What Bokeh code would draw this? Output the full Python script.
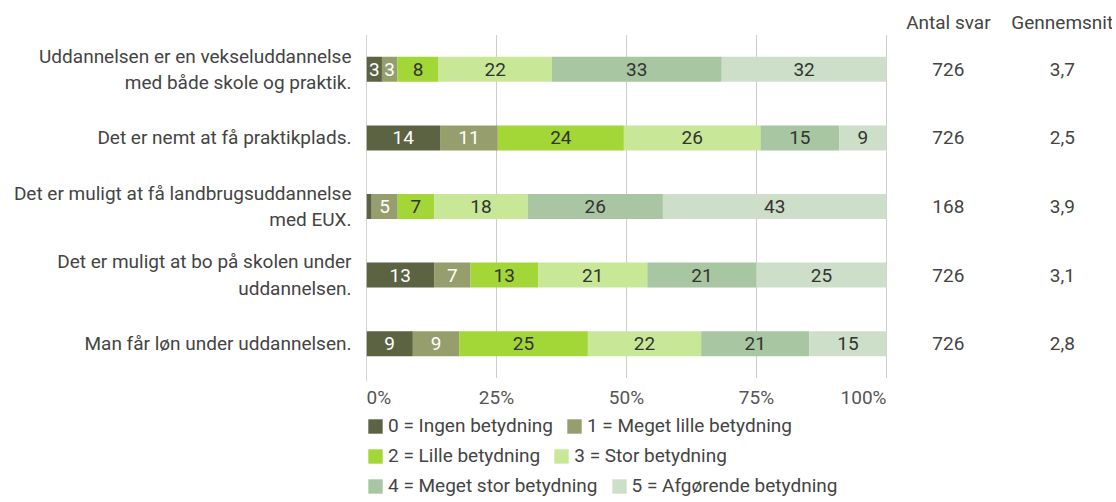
from bokeh.plotting import figure
from bokeh.models import (Range1d, FixedTicker, ColumnDataSource, Legend, LegendItem)
from bokeh.core.properties import value
from bokeh.embed import file_html
from bokeh.resources import INLINE

# ---------------- data ----------------
questions = [
    "Uddannelsen er en vekseluddannelse\nmed både skole og praktik.",
    "Det er nemt at få praktikplads.",
    "Det er muligt at få landbrugsuddannelse\nmed EUX.",
    "Det er muligt at bo på skolen under\nuddannelsen.",
    "Man får løn under uddannelsen.",
]
levels = [
    "0 = Ingen betydning",
    "1 = Meget lille betydning",
    "2 = Lille betydning",
    "3 = Stor betydning",
    "4 = Meget stor betydning",
    "5 = Afgørende betydning",
]
pct_0 = [3, 14, 1, 13, 9]
pct_1 = [3, 11, 5, 7, 9]
pct_2 = [8, 24, 7, 13, 25]
pct_3 = [22, 26, 18, 21, 22]
pct_4 = [33, 15, 26, 21, 21]
pct_5 = [32, 9, 43, 25, 15]
antal_svar = ["726", "726", "168", "726", "726"]
gennemsnit = ["3,7", "2,5", "3,9", "3,1", "2,8"]
x_ticks = [0, 25, 50, 75, 100]
x_tick_labels = ["0%", "25%", "50%", "75%", "100%"]
headers = ["Antal svar", "Gennemsnit"]

# ---------------- style / layout ----------------
colors = ["#5b6342", "#959e6c", "#a3d637", "#c8e898", "#a8c6a1", "#cddfc8"]
label_colors = ["white", "white", "#333333", "#333333", "#333333", "#333333"]
FONT = "Roboto"
FS = "19px"
TEXT = "#444444"
COL_X = [111.9, 133.8]      # x positions of the two side columns (data units)
HEADER_Y = 5.18             # y of the column headers (data units)
TICK_LABEL_Y = -0.29        # y of the percentage labels (data units)
tick_align = ["left", "center", "center", "center", "right"]

series = [pct_0, pct_1, pct_2, pct_3, pct_4, pct_5]
n = len(questions)
y_pos = [n - 0.5 - i for i in range(n)]
totals = [sum(s[i] for s in series) for i in range(n)]

FW, FH = 746, 500
p = figure(frame_width=FW, frame_height=FH, output_backend="svg",
           toolbar_location=None,
           x_range=Range1d(0, FW / 5.2), y_range=Range1d(-1.786, 5.503),
           min_border_left=366, min_border_right=0, min_border_top=0,
           min_border_bottom=0)
p.outline_line_color = None
p.background_fill_color = "white"
p.border_fill_color = "white"
p.xaxis.visible = False
p.xgrid.grid_line_color = None
p.ygrid.grid_line_color = None

# grid lines and the 0-line (limited to the bar area)
p.segment(x0=x_ticks[1:], x1=x_ticks[1:], y0=0, y1=n, line_color="#cccccc", line_width=1)
p.segment(x0=[x_ticks[0]], x1=[x_ticks[0]], y0=-0.05, y1=n, line_color="#a8a8a8", line_width=1)

lefts = [0.0] * n
items = []
tx, ty, tt, tc = [], [], [], []
for k, s in enumerate(series):
    widths = [s[i] / totals[i] * 100 for i in range(n)]
    rights = [lefts[i] + widths[i] for i in range(n)]
    src = ColumnDataSource(dict(y=y_pos, left=lefts, right=rights))
    r = p.hbar(y="y", left="left", right="right", height=0.365, source=src,
               fill_color=colors[k], line_color=None)
    items.append(LegendItem(label=levels[k], renderers=[r]))
    for i in range(n):
        if s[i] >= 2:
            tx.append((lefts[i] + rights[i]) / 2)
            ty.append(y_pos[i])
            tt.append(str(s[i]))
            tc.append(label_colors[k])
    lefts = rights

p.text(x="x", y="y", text="t", text_color="c",
       source=ColumnDataSource(dict(x=tx, y=ty, t=tt, c=tc)),
       text_font=value(FONT), text_font_size=FS,
       text_align="center", text_baseline="middle")

# percentage tick labels
p.text(x="x", y="y", text="t", text_align="a",
       source=ColumnDataSource(dict(x=x_ticks, y=[TICK_LABEL_Y] * len(x_ticks),
                                    t=x_tick_labels, a=tick_align)),
       text_font=value(FONT), text_font_size=FS, text_color="#555555",
       text_baseline="middle")

# side columns
p.text(x=[COL_X[0]] * n, y=y_pos, text=antal_svar,
       text_font=value(FONT), text_font_size=FS, text_color=TEXT,
       text_align="center", text_baseline="middle")
p.text(x=[COL_X[1]] * n, y=y_pos, text=gennemsnit,
       text_font=value(FONT), text_font_size=FS, text_color=TEXT,
       text_align="center", text_baseline="middle")
p.text(x=COL_X, y=[HEADER_Y] * 2, text=headers,
       text_font=value(FONT), text_font_size=FS, text_color=TEXT,
       text_align="center", text_baseline="middle")

# y axis with question labels
p.yaxis.ticker = FixedTicker(ticks=y_pos)
p.yaxis.major_label_overrides = {y: q for y, q in zip(y_pos, questions)}
p.yaxis.axis_line_color = None
p.yaxis.major_tick_line_color = None
p.yaxis.minor_tick_line_color = None
p.yaxis.major_label_standoff = 9
p.yaxis.major_label_text_font = FONT
p.yaxis.major_label_text_font_size = FS
p.yaxis.major_label_text_color = TEXT
p.yaxis.major_label_text_line_height = 1.15

# legend: three rows of two, flowing
for row, ly in enumerate([63, 33, 3]):
    lg = Legend(items=items[2 * row:2 * row + 2], orientation="horizontal",
                location=(0, ly), margin=0, padding=0, spacing=12,
                glyph_width=18, glyph_height=18, label_standoff=4,
                label_height=20,
                label_text_font=FONT, label_text_font_size=FS,
                label_text_color=TEXT, border_line_color=None,
                background_fill_alpha=0)
    p.add_layout(lg, "center")

open("out.html", "w").write(file_html(p, INLINE))
